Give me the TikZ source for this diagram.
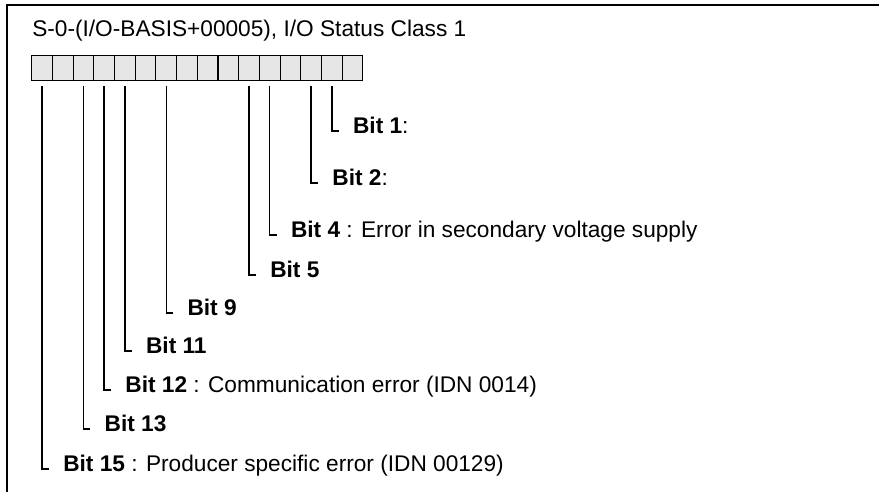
\documentclass[tikz,border=0pt]{standalone}
\usepackage{fontspec}
\setmainfont{Liberation Sans}
\usepackage{xcolor}
\usetikzlibrary{calc,positioning}
\definecolor{boxgray}{HTML}{E6E6E6}
\tikzset{
  bitbox/.style={draw=black,fill=boxgray,line width=0.75pt,minimum width=15.5pt,minimum height=18.75pt,inner sep=0pt},
  bitlabel/.style={anchor=west,inner sep=0pt,text height=12.2pt,text depth=0pt,font=\fontsize{17}{20}\selectfont},
  leg/.style={line width=1pt}
}

\begin{document}
\begin{tikzpicture}[x=0.75pt,y=-0.75pt]
		\useasboundingbox (0,0) rectangle (879,492);
		
		% frame, open to the right and below
		\draw[line width=1.7pt] (7,492) -- (7,5.3) -- (879,5.3);
		
		\node[anchor=base west,inner sep=0pt,font=\fontsize{17}{20}\selectfont] (title) at (32,36.3) {S-0-(I/O-BASIS+00005), I/O Status Class 1};
		
		% register, bit 15 on the left
		\foreach \n in {0,...,15}
			\node[bitbox] (b\n) at ({42.05+20.7*(15-\n)},68.5) {};
		
		\foreach \n/\y/\txt in {1/125/{\textbf{Bit 1}:},2/177/{\textbf{Bit 2}:},4/229/{\textbf{Bit 4} : Error in secondary voltage supply},5/269/{\textbf{Bit 5}},9/307/{\textbf{Bit 9}},11/345/{\textbf{Bit 11}},12/384/{\textbf{Bit 12} : Communication error (IDN 0014)},13/423/{\textbf{Bit 13}},15/463/{\textbf{Bit 15} : Producer specific error (IDN 00129)}}{
			\node[bitlabel] (l\n) at ({42.05+20.7*(15-\n)+21},\y) {\txt};
			\draw[leg] ($(b\n.south)+(0,5)$) |- ($(l\n.west)+(-14,6)$);
		}
	\end{tikzpicture}
\end{document}
